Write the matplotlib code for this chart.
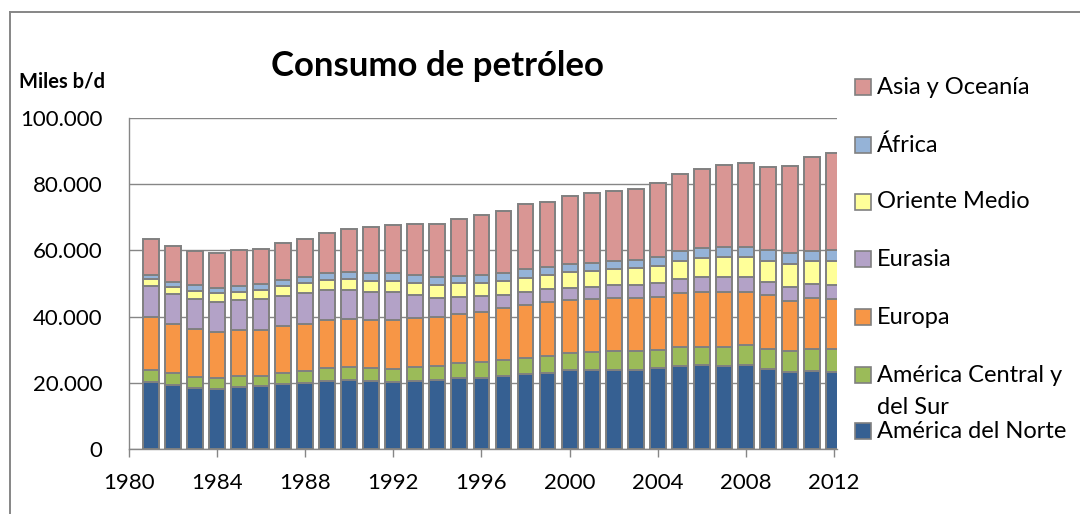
import matplotlib
matplotlib.use("Agg")
import matplotlib.pyplot as plt
from matplotlib.patches import Rectangle
from matplotlib.lines import Line2D
from matplotlib.ticker import FuncFormatter, MultipleLocator

# -----------------------------
# DATA (miles de barriles diarios)
# -----------------------------
years = list(range(1981, 2013))

america_norte = [20100, 19300, 18500, 18100, 18800, 19000, 19600, 19900, 20600, 20800,
                 20500, 20100, 20600, 20800, 21400, 21400, 22100, 22600, 22900, 23900,
                 23900, 23900, 23900, 24500, 25100, 25400, 25100, 25400, 24100, 23300,
                 23700, 23400]
america_cs = [3800, 3600, 3300, 3300, 3300, 3100, 3500, 3800, 4000, 4100,
              3900, 4200, 4300, 4300, 4500, 4800, 4800, 4900, 5200, 5200,
              5500, 5600, 5600, 5400, 5600, 5500, 5800, 6000, 6000, 6200,
              6500, 6700]
europa = [16100, 14800, 14500, 13800, 13900, 13900, 14100, 14100, 14400, 14400,
          14600, 14700, 14800, 14900, 14900, 15300, 15600, 16000, 16200, 15900,
          15800, 16000, 16000, 16100, 16300, 16600, 16600, 16100, 16300, 15300,
          15300, 15100]
eurasia = [9200, 9100, 9000, 9200, 9000, 9200, 9100, 9200, 8900, 8800,
           8500, 8500, 6800, 5700, 5200, 4700, 4100, 3900, 3900, 3700,
           3800, 4000, 4000, 4100, 4300, 4400, 4400, 4400, 4100, 4200,
           4300, 4400]
oriente_medio = [2100, 2200, 2500, 2600, 2500, 2700, 3000, 3200, 3200, 3300,
                 3300, 3300, 3700, 3900, 4100, 4000, 4100, 4400, 4500, 4700,
                 4800, 4800, 5100, 5200, 5600, 5700, 6000, 6200, 6400, 6800,
                 6900, 7300]
africa = [1300, 1500, 1700, 1700, 1700, 1800, 1800, 1900, 2000, 2000,
          2300, 2300, 2400, 2300, 2300, 2400, 2600, 2500, 2400, 2500,
          2500, 2600, 2500, 2800, 2800, 3000, 3000, 3000, 3200, 3300,
          3200, 3200]
asia_oceania = [10800, 10900, 10400, 10600, 10900, 10700, 11000, 11300, 12200, 13100,
                13900, 14600, 15300, 16200, 17000, 18100, 18700, 19600, 19600, 20500,
                20900, 21100, 21500, 22200, 23400, 23900, 24900, 25400, 25200, 26400,
                28200, 29200]

series = [america_norte, america_cs, europa, eurasia, oriente_medio, africa, asia_oceania]
labels = ["América del Norte", "América Central y\ndel Sur", "Europa", "Eurasia",
          "Oriente Medio", "África", "Asia y Oceanía"]
colors = ["#366092", "#9BBB59", "#F79646", "#B3A2C7", "#FFFF99", "#95B3D7", "#D99694"]

# -----------------------------
# FIGURE
# -----------------------------
plt.rcParams["font.family"] = ["Lato", "DejaVu Sans"]

W, H = 1080, 514
fig = plt.figure(figsize=(W / 100, H / 100), dpi=100)
ax = fig.add_axes([129 / W, 1 - 449 / H, (837 - 129) / W, (449 - 118) / H])

bottom = [0] * len(years)
for vals, col in zip(series, colors):
    ax.bar(years, vals, width=0.72, bottom=bottom, color=col,
           edgecolor="#808080", linewidth=1.4, zorder=3)
    bottom = [b + v for b, v in zip(bottom, vals)]

ax.set_xlim(1980, 2012.14)
ax.set_ylim(0, 100000)
ax.yaxis.set_major_locator(MultipleLocator(20000))
ax.yaxis.set_major_formatter(FuncFormatter(lambda v, p: f"{int(v):,}".replace(",", ".")))
ax.set_xticks(range(1980, 2013, 4))

ax.grid(axis="y", color="#868686", linewidth=1.0, zorder=0)
for s in ["top", "right"]:
    ax.spines[s].set_visible(False)
for s in ["left", "bottom"]:
    ax.spines[s].set_color("#868686")
    ax.spines[s].set_linewidth(1.0)

ax.tick_params(axis="y", length=0, pad=19, labelsize=16)
ax.tick_params(axis="x", length=6, width=1.0, color="#868686", pad=11, labelsize=16)

# -----------------------------
# TEXTS
# -----------------------------
fig.text(437 / W, 1 - 76 / H, "Consumo de petróleo", ha="center", va="baseline",
         fontsize=25, fontweight="bold")
fig.text(19 / W, 1 - 82 / H, "Miles b/d", ha="left", va="center",
         fontsize=14.5, fontweight="bold")

# chart frame (left and top only, rest is cut off)
fig.add_artist(Line2D([9.5 / W, 9.5 / W], [0, 1 - 12 / H], color="#868686", linewidth=1.4))
fig.add_artist(Line2D([9.5 / W, 1], [1 - 12 / H, 1 - 12 / H], color="#868686", linewidth=1.4))

# legend
leg_y = [87, 145, 202, 259, 317, 375, 431]
leg_order = [6, 5, 4, 3, 2, 1, 0]
for yy, i in zip(leg_y, leg_order):
    fig.add_artist(Rectangle((855 / W, 1 - (yy + 8) / H), 16 / W, 16 / H,
                             facecolor=colors[i], edgecolor="#808080", linewidth=1.2,
                             transform=fig.transFigure))
    fig.text(877 / W, 1 - yy / H, labels[i].split("\n")[0], ha="left", va="center",
             fontsize=17)
fig.text(877 / W, 1 - 407 / H, "del Sur", ha="left", va="center", fontsize=17)

fig.savefig("out.png", dpi=100)
